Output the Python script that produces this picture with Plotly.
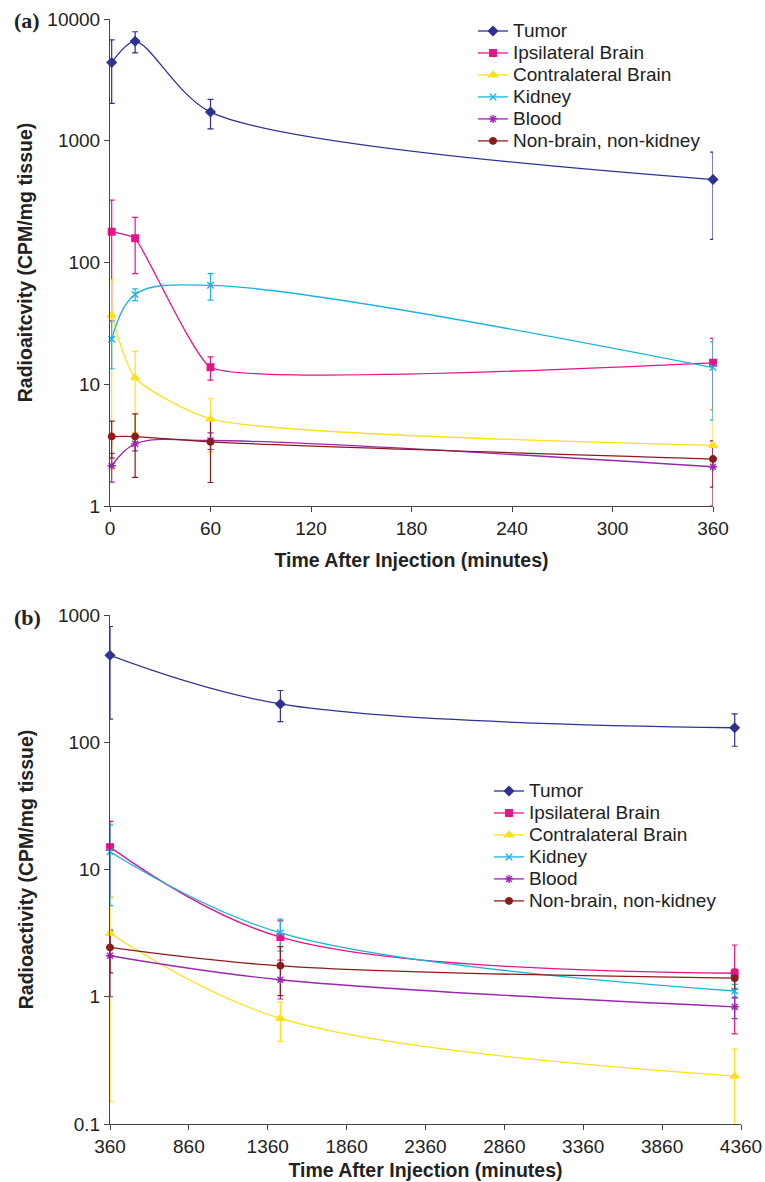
import plotly.graph_objects as go

# ---------------- data ----------------
series_names = ["Tumor", "Ipsilateral Brain", "Contralateral Brain", "Kidney", "Blood", "Non-brain, non-kidney"]

times_a = [1, 15, 60, 360]
tumor_a = [4390, 6560, 1720, 480]
tumor_a_err = [2360, 1300, 470, 325]
ipsi_a = [179, 158, 13.8, 15.0]
ipsi_a_err = [146, 77, 3.0, 8.8]
contra_a = [37, 11.3, 5.2, 3.15]
contra_a_err = [35, 7.3, 2.4, 3.0]
kidney_a = [23.4, 54.7, 65, 13.7]
kidney_a_err = [10, 6, 16, 8.6]
blood_a = [2.14, 3.24, 3.45, 2.1]
blood_a_err = [0.57, 0.4, 0.54, 1.1]
nonbrain_a = [3.72, 3.72, 3.36, 2.43]
nonbrain_a_err = [1.25, 2.0, 1.8, 1.0]

times_b = [360, 1440, 4320]
tumor_b = [482, 200, 130]
tumor_b_err = [330, 55, 37]
ipsi_b = [15.0, 2.94, 1.53]
ipsi_b_err = [8.9, 1.0, 1.02]
contra_b = [3.15, 0.676, 0.238]
contra_b_err = [3.0, 0.23, 0.15]
kidney_b = [13.8, 3.18, 1.11]
kidney_b_err = [8.6, 0.9, 0.14]
blood_b = [2.1, 1.36, 0.834]
blood_b_err = [1.1, 0.4, 0.16]
nonbrain_b = [2.44, 1.75, 1.40]
nonbrain_b_err = [0.9, 0.73, 0.25]

xticks_a = [0, 60, 120, 180, 240, 300, 360]
xticks_b = [360, 860, 1360, 1860, 2360, 2860, 3360, 3860, 4360]
yticks_a = [1, 10, 100, 1000, 10000]
yticks_b = [0.1, 1, 10, 100, 1000]
yticktext_a = ["1", "10", "100", "1000", "10000"]
yticktext_b = ["0.1", "1", "10", "100", "1000"]

# ---------------- styles ----------------
colors = ["#2E3192", "#E4148A", "#FFE01A", "#1BB3DD", "#9A27AE", "#8B1C1C"]
symbols = ["diamond", "square", "triangle-up", "x-thin-open", "asterisk-open", "circle"]
sizes = [7, 6.5, 7.5, 6.5, 7, 6.5]
smooth_a = [0.8, 0.35, 0.6, 1.0, 1.0, 0.8]
smooth_b = [1.0, 1.0, 1.0, 1.0, 1.0, 1.0]

W, H = 765, 1182
FONT = "Arial, Liberation Sans, Helvetica, sans-serif"
LEGEND_TEXT_PX = 19

fig = go.Figure()

panel_a = [(tumor_a, tumor_a_err), (ipsi_a, ipsi_a_err), (contra_a, contra_a_err),
           (kidney_a, kidney_a_err), (blood_a, blood_a_err), (nonbrain_a, nonbrain_a_err)]
panel_b = [(tumor_b, tumor_b_err), (ipsi_b, ipsi_b_err), (contra_b, contra_b_err),
           (kidney_b, kidney_b_err), (blood_b, blood_b_err), (nonbrain_b, nonbrain_b_err)]

def add_panel(times, panel, smooth, xa, ya, legend):
    # error bars (clipped to plot area)
    for i, (vals, errs) in enumerate(panel):
        c = colors[i]
        fig.add_trace(go.Scatter(
            x=times, y=vals, mode="markers", xaxis=xa, yaxis=ya,
            marker=dict(size=1, opacity=0),
            error_y=dict(type="data", array=errs, symmetric=True, color=c, thickness=1.2, width=3),
            showlegend=False, hoverinfo="skip", cliponaxis=True))
    # lines + markers
    for i, (vals, errs) in enumerate(panel):
        c = colors[i]
        fig.add_trace(go.Scatter(
            x=times, y=vals, mode="lines+markers",
            name=f'<span style="font-size:{LEGEND_TEXT_PX}px">{series_names[i]}</span>',
            xaxis=xa, yaxis=ya, legend=legend,
            line=dict(color=c, width=1.3, shape="spline", smoothing=smooth[i]),
            marker=dict(symbol=symbols[i], size=sizes[i], color=c, line=dict(color=c, width=1.4)),
            cliponaxis=False))

add_panel(times_a, panel_a, smooth_a, "x", "y", "legend")
add_panel(times_b, panel_b, smooth_b, "x2", "y2", "legend2")

axis_common = dict(showline=True, linecolor="#444", linewidth=1, ticks="outside", ticklen=5,
                   tickcolor="#444", showgrid=False, zeroline=False, automargin=False,
                   tickfont=dict(family=FONT, size=19, color="#222"))
title_font = dict(family=FONT, size=19.5, color="#222", weight="bold")
legend_font = dict(family=FONT, size=14.6, color="#222")

fig.update_layout(
    width=W, height=H, autosize=False,
    margin=dict(l=0, r=0, t=0, b=0, pad=0),
    paper_bgcolor="white", plot_bgcolor="white",
    xaxis=dict(domain=[110 / W, 713 / W], anchor="y", range=[0, 360], tickvals=xticks_a,
               title=dict(text="Time After Injection (minutes)", font=title_font, standoff=15),
               **axis_common),
    yaxis=dict(domain=[1 - 506 / H, 1 - 19 / H], anchor="x", type="log", range=[0, 4],
               tickvals=yticks_a, ticktext=yticktext_a,
               title=dict(text="Radioaitcvity (CPM/mg tissue)", font=title_font, standoff=9),
               **axis_common),
    xaxis2=dict(domain=[110 / W, 741 / W], anchor="y2", range=[360, 4360], tickvals=xticks_b,
                title=dict(text="Time After Injection (minutes)", font=title_font, standoff=7),
                **axis_common),
    yaxis2=dict(domain=[1 - 1124 / H, 1 - 615 / H], anchor="x2", type="log", range=[-1, 3],
                tickvals=yticks_b, ticktext=yticktext_b,
                title=dict(text="Radioactivity (CPM/mg tissue)", font=title_font, standoff=19),
                **axis_common),
    legend=dict(x=473 / W, y=1 - 15 / H, xanchor="left", yanchor="top",
                bgcolor="rgba(0,0,0,0)", font=legend_font, itemwidth=30),
    legend2=dict(x=489 / W, y=1 - 775 / H, xanchor="left", yanchor="top",
                 bgcolor="rgba(0,0,0,0)", font=legend_font, itemwidth=30),
    annotations=[
        dict(text="<b>(a)</b>", x=12 / W, y=1 - 20 / H, xref="paper", yref="paper",
             xanchor="left", yanchor="middle", showarrow=False,
             font=dict(family="Liberation Serif, Times New Roman, serif", size=22, color="#222")),
        dict(text="<b>(b)</b>", x=12 / W, y=1 - 617 / H, xref="paper", yref="paper",
             xanchor="left", yanchor="middle", showarrow=False,
             font=dict(family="Liberation Serif, Times New Roman, serif", size=22, color="#222")),
    ],
)

fig.write_html("out.html", config={"displayModeBar": False},
               post_script="document.body.style.margin='0';")
